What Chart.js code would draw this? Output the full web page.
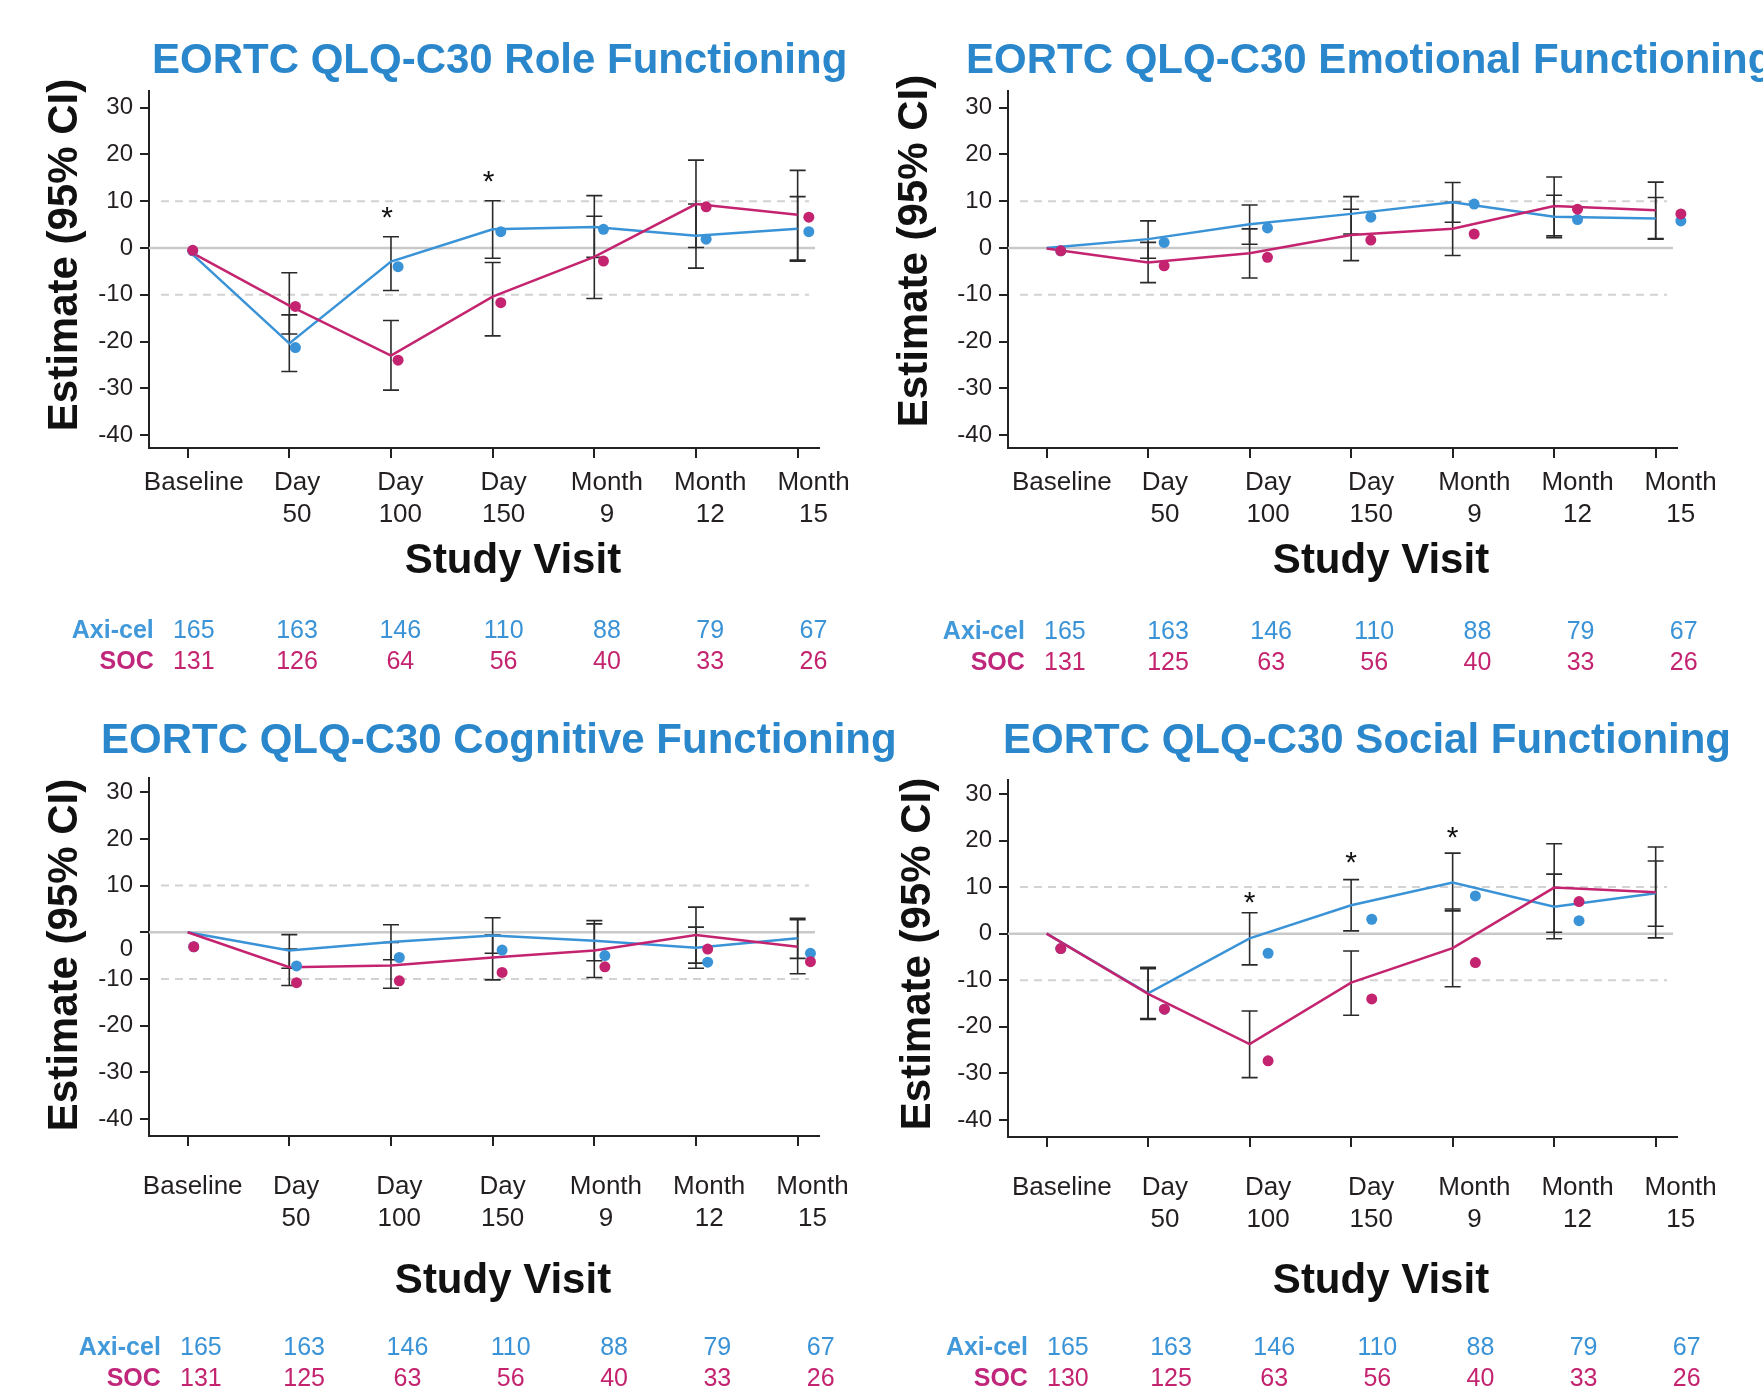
<!DOCTYPE html>
<html>
<head>
<meta charset="utf-8">
<script src="https://cdn.jsdelivr.net/npm/chart.js@4.4.1/dist/chart.umd.min.js"></script>
<style>
  body { margin: 0; width: 1763px; height: 1394px; overflow: hidden; background: #fff; }
  canvas { position: absolute; }
</style>
</head>
<body>
<canvas id="role" width="880" height="697" style="left:0;top:0"></canvas>
<canvas id="emotional" width="883" height="697" style="left:880px;top:0"></canvas>
<canvas id="cognitive" width="930" height="697" style="left:0;top:697px"></canvas>
<canvas id="social" width="883" height="697" style="left:880px;top:697px"></canvas>
<script>
// study visits (x categories) and y ticks
var visits = [["Baseline"], ["Day", "50"], ["Day", "100"], ["Day", "150"], ["Month", "9"], ["Month", "12"], ["Month", "15"]];
var yTicks = [-40, -30, -20, -10, 0, 10, 20, 30];
var refLines = [-10, 10];
var nAxi = [165, 163, 146, 110, 88, 79, 67];

// Role functioning
var roleAxiLine = [-0.4, -20.4, -2.9, 4.0, 4.5, 2.6, 4.1];
var roleSocLine = [-0.5, -12.3, -23.0, -10.4, -1.9, 9.4, 7.1];
var roleAxiDot = [-0.6, -21.3, -4.0, 3.5, 4.0, 1.9, 3.5];
var roleSocDot = [-0.5, -12.5, -24.0, -11.7, -2.8, 8.8, 6.6];
var roleAxiLo = [null, -26.4, -9.1, -2.2, -2.0, -4.3, -2.8];
var roleAxiHi = [null, -14.3, 2.4, 10.1, 11.2, 9.4, 11.0];
var roleSocLo = [null, -18.4, -30.4, -18.8, -10.8, 0.1, -2.6];
var roleSocHi = [null, -5.3, -15.5, -3.1, 6.8, 18.8, 16.6];
var roleSig = [[2, 8.1], [3, 15.8]];
var roleNSoc = [131, 126, 64, 56, 40, 33, 26];

// Emotional functioning
var emoAxiLine = [0, 1.9, 5.1, 7.3, 9.8, 6.7, 6.3];
var emoSocLine = [-0.1, -3.1, -1.1, 2.8, 4.1, 9.0, 8.1];
var emoAxiDot = [-0.6, 1.2, 4.3, 6.6, 9.4, 6.1, 5.8];
var emoSocDot = [-0.6, -3.8, -2.0, 1.7, 3.0, 8.3, 7.3];
var emoAxiLo = [null, -2.2, 0.8, 3.0, 5.5, 2.2, 1.9];
var emoAxiHi = [null, 5.8, 9.2, 11.0, 14.0, 11.3, 10.8];
var emoSocLo = [null, -7.4, -6.4, -2.7, -1.6, 2.6, 2.0];
var emoSocHi = [null, 1.2, 4.1, 8.3, 9.8, 15.2, 14.1];
var emoSig = [];
var emoNSoc = [131, 125, 63, 56, 40, 33, 26];

// Cognitive functioning
var cogAxiLine = [0, -3.9, -2.1, -0.7, -1.8, -3.3, -1.3];
var cogSocLine = [0, -7.5, -7.1, -5.4, -3.9, -0.6, -3.1];
var cogAxiDot = [-3.1, -7.2, -5.4, -3.8, -5.0, -6.4, -4.5];
var cogSocDot = [-3.1, -10.8, -10.4, -8.6, -7.4, -3.6, -6.3];
var cogAxiLo = [null, -7.7, -5.9, -4.5, -6.1, -7.7, -5.6];
var cogAxiHi = [null, -0.5, 1.6, 3.1, 2.5, 1.1, 3.0];
var cogSocLo = [null, -11.4, -12.0, -10.2, -9.7, -6.6, -8.9];
var cogSocHi = [null, -3.6, -2.2, -0.6, 1.8, 5.4, 2.7];
var cogSig = [];
var cogNSoc = [131, 125, 63, 56, 40, 33, 26];

// Social functioning
var socAxiLine = [0, -12.8, -1.0, 6.1, 11.0, 5.8, 8.7];
var socSocLine = [0, -12.9, -23.7, -10.5, -3.1, 9.9, 8.9];
var socAxiDot = [-3.2, -16.2, -4.2, 3.1, 8.1, 2.8, 5.6];
var socSocDot = [-3.2, -16.2, -27.3, -14.0, -6.2, 6.9, 5.6];
var socAxiLo = [null, -18.4, -6.7, 0.6, 4.9, -1.1, -0.9];
var socAxiHi = [null, -7.5, 4.5, 11.6, 17.3, 12.8, 18.6];
var socSocLo = [null, -18.2, -30.9, -17.5, -11.4, 0.3, 1.6];
var socSocHi = [null, -7.2, -16.6, -3.7, 5.3, 19.3, 15.6];
var socSig = [[2, 8.3], [3, 16.9], [4, 22.3]];
var socNSoc = [130, 125, 63, 56, 40, 33, 26];

var FONT = '"Liberation Sans", Arial, Helvetica, sans-serif';
Chart.defaults.font.family = FONT;
Chart.defaults.color = '#231f20';

var BLUE = '#3a93d6', PINK = '#c4246f';
var TITLE_BLUE = '#2b87cb', TAB_BLUE = '#4299da', TAB_PINK = '#c0267a';
var COL_SPREAD = 1.016; // columns of labels / table are slightly wider than ticks

function makePanel(id, p) {
  // extra drawing: reference lines, error bars, titles, at-risk table
  var extras = {
    id: 'extras_' + id,
    beforeDatasetsDraw: function(chart) {
      var ctx = chart.ctx, a = chart.chartArea, xa = chart.scales.x, ya = chart.scales.y;
      ctx.save();
      var y0 = ya.getPixelForValue(0);
      ctx.strokeStyle = '#c9c9c9';
      ctx.lineWidth = 2.5;
      ctx.beginPath(); ctx.moveTo(a.left, y0); ctx.lineTo(a.right - 4, y0); ctx.stroke();
      ctx.setLineDash([8, 6]);
      ctx.strokeStyle = '#d2d2d2';
      ctx.lineWidth = 2;
      refLines.forEach(function(v) {
        var y = ya.getPixelForValue(v);
        ctx.beginPath(); ctx.moveTo(a.left + 12, y); ctx.lineTo(a.right - 10, y); ctx.stroke();
      });
      ctx.setLineDash([]);
      ctx.strokeStyle = '#2a2a2a';
      ctx.lineWidth = 1.6;
      [[p.axiLo, p.axiHi], [p.socLo, p.socHi]].forEach(function(pair) {
        pair[0].forEach(function(lo, i) {
          if (lo == null) return;
          var x = xa.getPixelForValue(i);
          var yl = ya.getPixelForValue(lo), yh = ya.getPixelForValue(pair[1][i]);
          ctx.beginPath();
          ctx.moveTo(x, yl); ctx.lineTo(x, yh);
          ctx.moveTo(x - 8, yl); ctx.lineTo(x + 8, yl);
          ctx.moveTo(x - 8, yh); ctx.lineTo(x + 8, yh);
          ctx.stroke();
        });
      });
      ctx.restore();
    },
    afterDraw: function(chart) {
      var ctx = chart.ctx, xa = chart.scales.x, ya = chart.scales.y;
      ctx.save();
      // title
      ctx.fillStyle = TITLE_BLUE;
      ctx.font = 'bold 42px ' + FONT;
      ctx.textAlign = 'left';
      ctx.textBaseline = 'alphabetic';
      ctx.fillText(p.title, p.titleX, p.titleY);
      // axis titles
      ctx.fillStyle = '#111';
      ctx.textAlign = 'center';
      ctx.textBaseline = 'middle';
      ctx.fillText('Study Visit', p.xTitle[0], p.xTitle[1]);
      ctx.save();
      ctx.translate(p.yTitle[0], p.yTitle[1]);
      ctx.rotate(-Math.PI / 2);
      ctx.fillText('Estimate (95% CI)', 0, 0);
      ctx.restore();
      // significance marks
      ctx.font = '30px ' + FONT;
      ctx.textBaseline = 'alphabetic';
      p.sig.forEach(function(s) {
        ctx.fillText('*', xa.getPixelForValue(s[0]) + p.sigDx, ya.getPixelForValue(s[1]) + 17);
      });
      // numbers at risk
      ctx.textBaseline = 'middle';
      ctx.font = 'bold 25px ' + FONT;
      var x0 = xa.getPixelForValue(p.numShift);
      ctx.textAlign = 'right';
      ctx.fillStyle = TAB_BLUE;
      ctx.fillText('Axi-cel', x0 - 40, p.rows[0]);
      ctx.fillStyle = TAB_PINK;
      ctx.fillText('SOC', x0 - 40, p.rows[1]);
      ctx.font = '25px ' + FONT;
      ctx.textAlign = 'center';
      nAxi.forEach(function(n, i) {
        var x = xa.getPixelForValue(i * COL_SPREAD + p.numShift);
        ctx.fillStyle = BLUE;
        ctx.fillText(String(n), x, p.rows[0]);
        ctx.fillStyle = PINK;
        ctx.fillText(String(p.nSoc[i]), x, p.rows[1]);
      });
      ctx.restore();
    }
  };

  function dots(arr) {
    return arr.map(function(v, i) { return { x: i * p.dotSpread + p.dotShift, y: v }; });
  }
  function line(arr) {
    return arr.map(function(v, i) { return { x: i, y: v }; });
  }

  new Chart(document.getElementById(id), {
    type: 'line',
    data: {
      datasets: [
        { data: dots(p.socDot), showLine: false, pointRadius: 5.5, pointBorderWidth: 0, backgroundColor: PINK, clip: false, order: 0 },
        { data: dots(p.axiDot), showLine: false, pointRadius: 5.5, pointBorderWidth: 0, backgroundColor: BLUE, clip: false, order: 1 },
        { data: line(p.socLine), borderColor: PINK, borderWidth: 2.5, pointRadius: 0, order: 2 },
        { data: line(p.axiLine), borderColor: BLUE, borderWidth: 2.5, pointRadius: 0, order: 3 }
      ]
    },
    options: {
      responsive: false,
      animation: false,
      events: [],
      layout: { padding: p.padding },
      plugins: { legend: { display: false }, tooltip: { enabled: false } },
      scales: {
        // tick marks at the visits
        x: {
          type: 'linear',
          min: -0.38,
          max: 6.21,
          weight: 0,
          afterBuildTicks: function(s) { s.ticks = visits.map(function(v, i) { return { value: i }; }); },
          afterFit: function(s) { s.height = 10; },
          ticks: { display: false },
          grid: { drawOnChartArea: false, drawTicks: true, tickLength: 10, color: '#222', lineWidth: 2 },
          border: { display: true, color: '#222', width: 2 }
        },
        // visit labels, set a little to the right of the tick marks
        xl: {
          type: 'linear',
          position: 'bottom',
          min: -0.38,
          max: 6.21,
          weight: 1,
          afterBuildTicks: function(s) { s.ticks = visits.map(function(v, i) { return { value: i * COL_SPREAD + p.labelShift }; }); },
          afterFit: function(s) { s.height = 100; },
          ticks: {
            autoSkip: false,
            maxRotation: 0,
            padding: p.xPad,
            color: '#231f20',
            font: { size: 26, lineHeight: 32 / 26 },
            callback: function(v, i) { return visits[i]; }
          },
          grid: { display: false, drawTicks: false },
          border: { display: false }
        },
        y: {
          min: p.yMin,
          max: p.yMax,
          afterBuildTicks: function(s) { s.ticks = yTicks.map(function(v) { return { value: v }; }); },
          afterFit: function(s) { s.width = 70; },
          ticks: {
            autoSkip: false,
            padding: 7,
            color: '#231f20',
            font: { size: 24, lineHeight: p.zeroDrop ? 1.45 : 1.2 },
            callback: function(v) { return (v === 0 && p.zeroDrop) ? ['', '0'] : String(v); }
          },
          grid: { drawOnChartArea: false, drawTicks: true, tickLength: 9, color: '#222', lineWidth: 2 },
          border: { display: true, color: '#222', width: 2 }
        }
      }
    },
    plugins: [extras]
  });
}

makePanel('role', {
  title: 'EORTC QLQ-C30 Role Functioning', titleX: 152, titleY: 73,
  xTitle: [513, 561], yTitle: [65, 255], rows: [631, 662],
  padding: { left: 79, right: 61, top: 91, bottom: 139 },
  yMin: -42.77, yMax: 33.58, xPad: 9, zeroDrop: false,
  dotSpread: 1.01, dotShift: 0.05, numShift: 0.06, labelShift: 0.06, sigDx: -4,
  axiLine: roleAxiLine, socLine: roleSocLine, axiDot: roleAxiDot, socDot: roleSocDot,
  axiLo: roleAxiLo, axiHi: roleAxiHi, socLo: roleSocLo, socHi: roleSocHi,
  sig: roleSig, nSoc: roleNSoc
});

makePanel('emotional', {
  title: 'EORTC QLQ-C30 Emotional Functioning', titleX: 86, titleY: 73,
  xTitle: [501, 561], yTitle: [35, 251], rows: [632, 663],
  padding: { left: 58, right: 86, top: 91, bottom: 139 },
  yMin: -42.77, yMax: 33.58, xPad: 9, zeroDrop: false,
  dotSpread: 1.018, dotShift: 0.14, numShift: 0.18, labelShift: 0.15, sigDx: 0,
  axiLine: emoAxiLine, socLine: emoSocLine, axiDot: emoAxiDot, socDot: emoSocDot,
  axiLo: emoAxiLo, axiHi: emoAxiHi, socLo: emoSocLo, socHi: emoSocHi,
  sig: emoSig, nSoc: emoNSoc
});

makePanel('cognitive', {
  title: 'EORTC QLQ-C30 Cognitive Functioning', titleX: 101, titleY: 56,
  xTitle: [503, 584], yTitle: [65, 258], rows: [651, 682],
  padding: { left: 79, right: 111, top: 81, bottom: 148 },
  yMin: -43.65, yMax: 33.06, xPad: 25, zeroDrop: true,
  dotSpread: 1.011, dotShift: 0.06, numShift: 0.13, labelShift: 0.05, sigDx: 0,
  axiLine: cogAxiLine, socLine: cogSocLine, axiDot: cogAxiDot, socDot: cogSocDot,
  axiLo: cogAxiLo, axiHi: cogAxiHi, socLo: cogSocLo, socHi: cogSocHi,
  sig: cogSig, nSoc: cogNSoc
});

makePanel('social', {
  title: 'EORTC QLQ-C30 Social Functioning', titleX: 123, titleY: 56,
  xTitle: [501, 584], yTitle: [38, 257], rows: [651, 682],
  padding: { left: 58, right: 86, top: 83, bottom: 147 },
  yMin: -43.65, yMax: 33.0, xPad: 25, zeroDrop: false,
  dotSpread: 1.021, dotShift: 0.14, numShift: 0.21, labelShift: 0.15, sigDx: 0,
  axiLine: socAxiLine, socLine: socSocLine, axiDot: socAxiDot, socDot: socSocDot,
  axiLo: socAxiLo, axiHi: socAxiHi, socLo: socSocLo, socHi: socSocHi,
  sig: socSig, nSoc: socNSoc
});
</script>
</body>
</html>
